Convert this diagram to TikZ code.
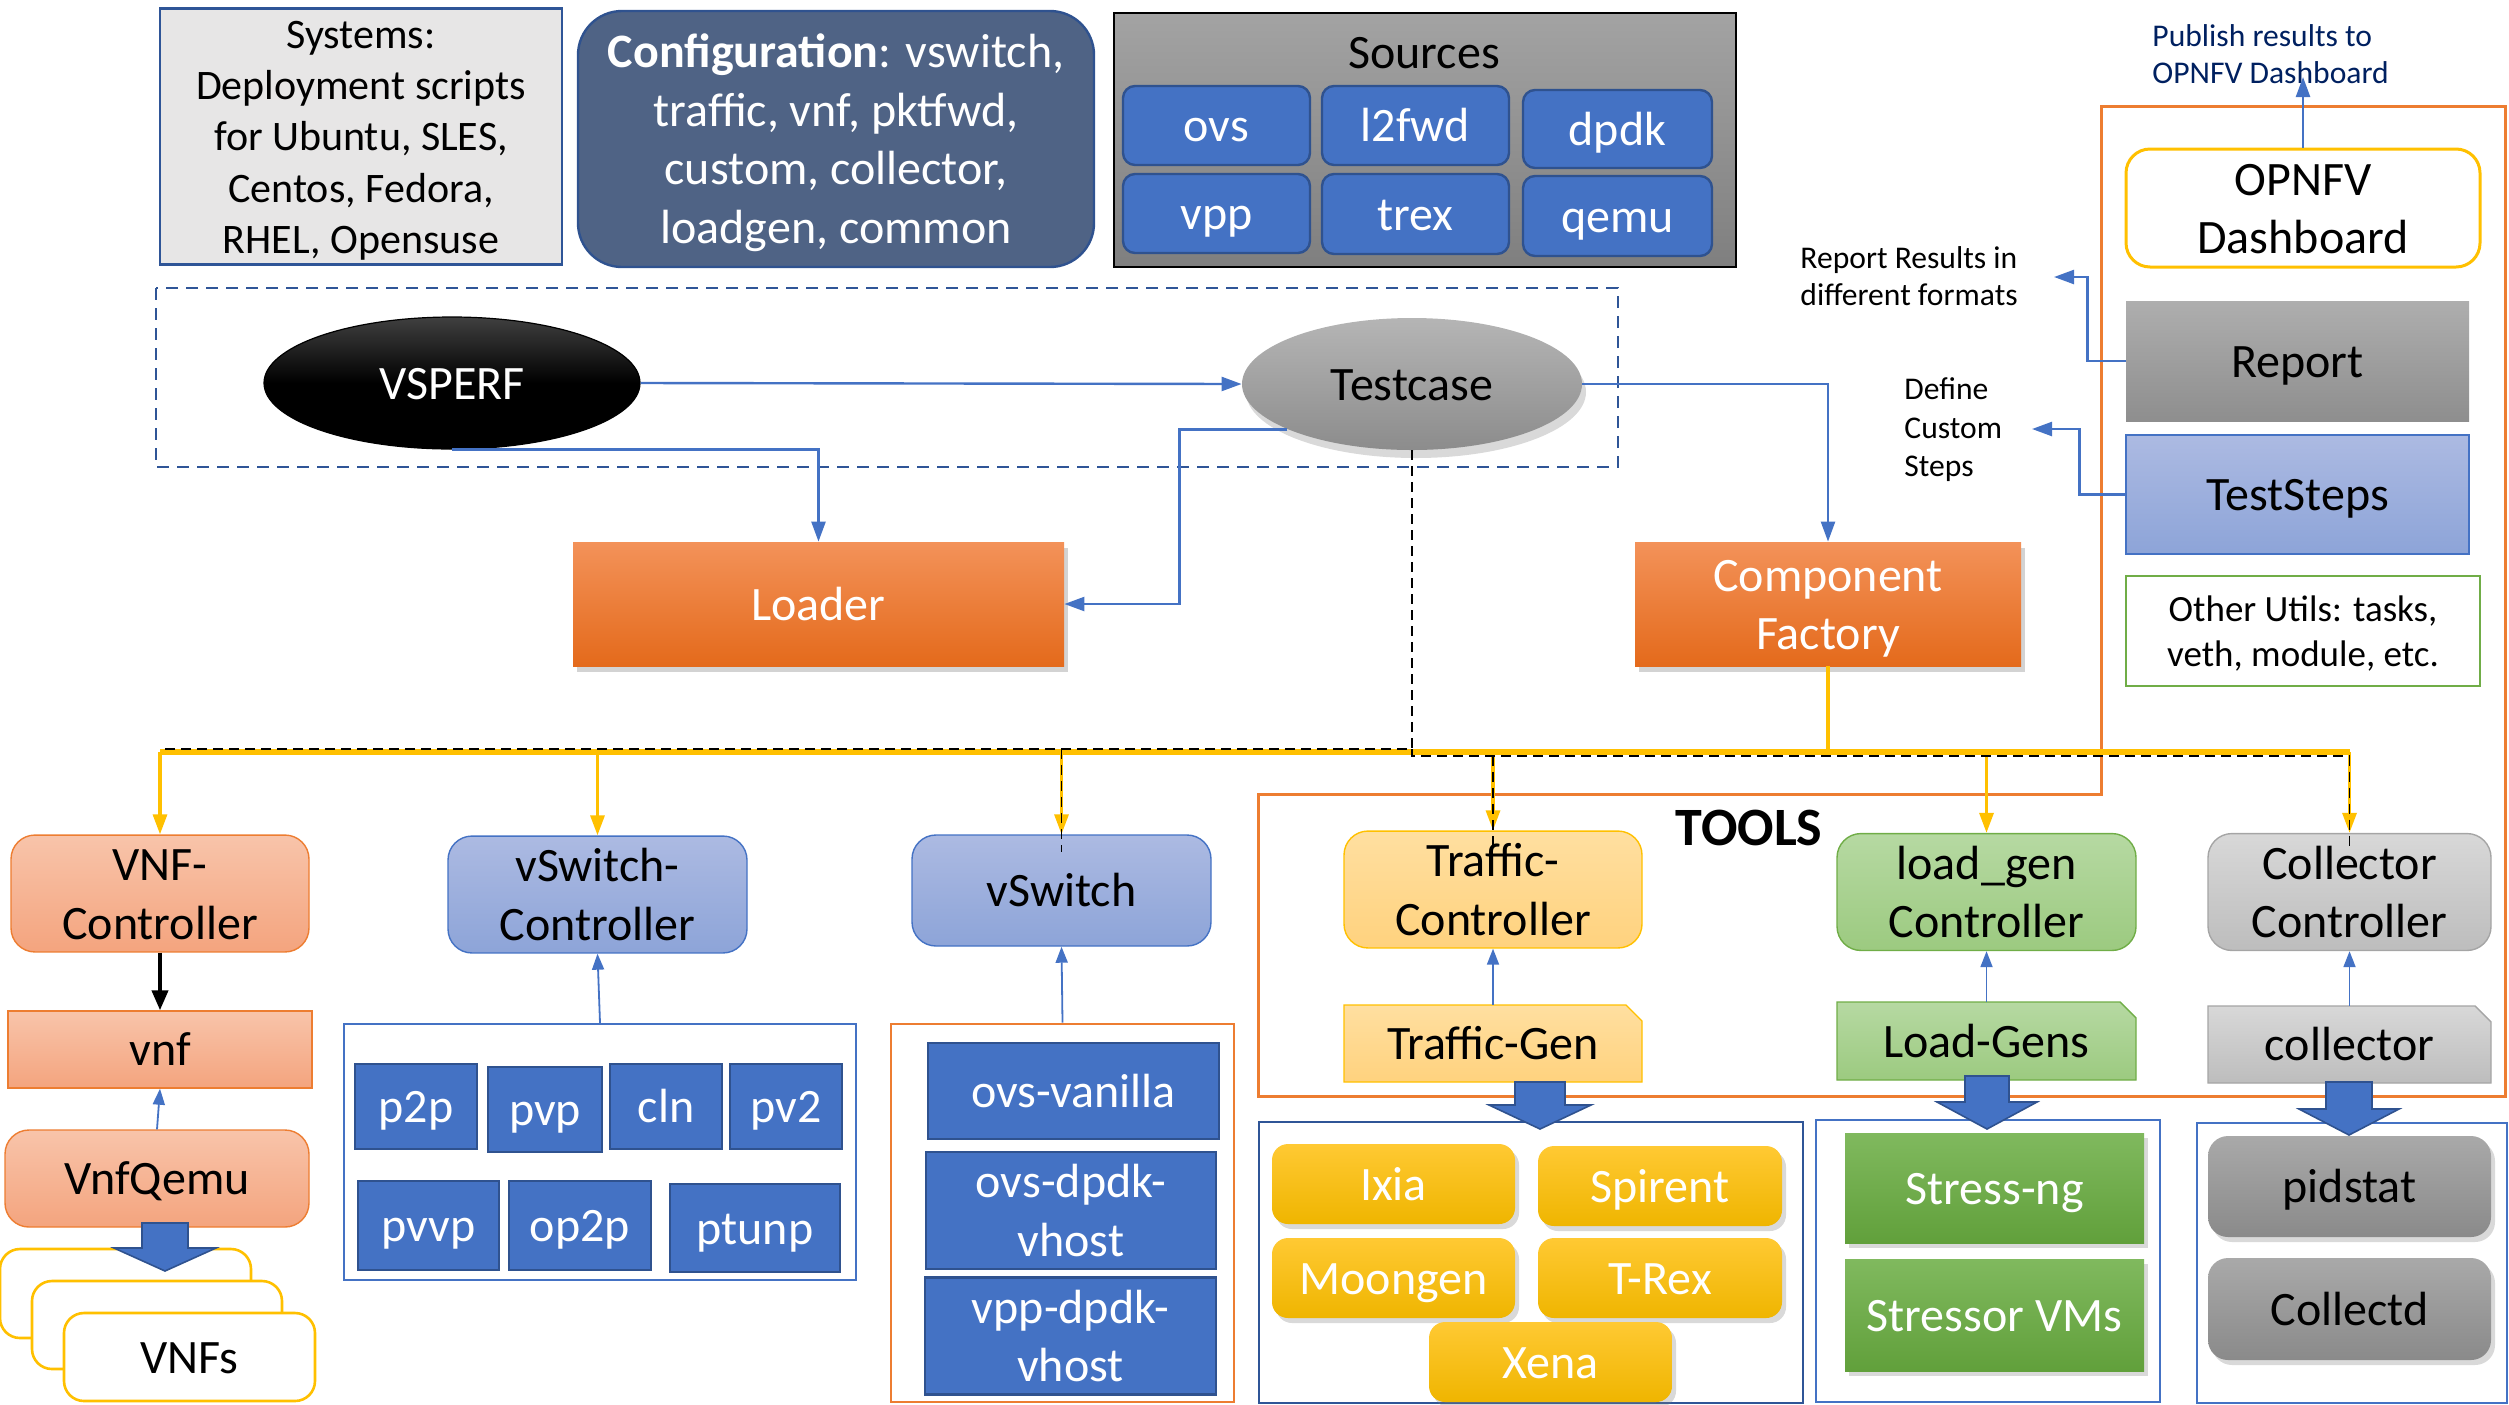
\documentclass[tikz,border=0pt]{standalone}
\usepackage{fontspec}
\setmainfont{Carlito}
\usetikzlibrary{arrows.meta,shadows,shapes.geometric,calc}
\definecolor{cblue}{HTML}{4472C4}
\definecolor{cdblue}{HTML}{2F528F}
\definecolor{cnavy}{HTML}{2F5597}
\definecolor{cconf}{HTML}{4F6385}
\definecolor{corange}{HTML}{ED7D31}
\definecolor{cyellow}{HTML}{FFC000}
\definecolor{cgreen}{HTML}{70AD47}
\definecolor{ctext}{HTML}{002060}
\definecolor{csys}{HTML}{E7E6E6}
\definecolor{salT}{HTML}{F8C4AA}\definecolor{salB}{HTML}{F4A47E}
\definecolor{lbT}{HTML}{ACBAE2}\definecolor{lbB}{HTML}{8DA4D8}
\definecolor{lyT}{HTML}{FFDFA0}\definecolor{lyB}{HTML}{FFD27E}
\definecolor{lgT}{HTML}{B6D9A2}\definecolor{lgB}{HTML}{9CCA80}
\definecolor{lgrT}{HTML}{D8D8D8}\definecolor{lgrB}{HTML}{BDBDBD}\definecolor{lgrD}{HTML}{A5A5A5}
\definecolor{ybT}{HTML}{FFC933}\definecolor{ybB}{HTML}{EFB500}
\definecolor{gbT}{HTML}{80B95E}\definecolor{gbB}{HTML}{61A03B}
\definecolor{grT}{HTML}{A9A9A9}\definecolor{grB}{HTML}{8A8A8A}
\definecolor{orT}{HTML}{F39259}\definecolor{orB}{HTML}{E46A1B}
\definecolor{srcT}{HTML}{A3A3A3}\definecolor{srcB}{HTML}{7F7F7F}
\definecolor{tcT}{HTML}{B5B5B5}\definecolor{tcB}{HTML}{8C8C8C}
\definecolor{repT}{HTML}{AEAEAE}\definecolor{repB}{HTML}{8E8E8E}
\newcommand\ps{\rule[-0.265em]{0pt}{1.215em}}
\newcommand\nl{\\\ps}
\newcommand\mkbox[7]{%
 \pgfmathsetmacro\mkw{(#5-#3)*0.5}%
 \pgfmathsetmacro\mkh{(#6-#4)*0.5}%
 \node[#2, minimum width=\mkw pt, minimum height=\mkh pt] (#1) at ({(#3+#5)/2},{(#4+#6)/2}) {\ps #7};}
\newcommand\snipshape[5]{%
 \draw[#5] (#1,#2) -- ({#3-16},#2) -- (#3,{#2+16}) -- (#3,#4) -- (#1,#4) -- cycle;}
\newcommand\blkarrow[6]{%
 \draw[blockarrow] ({#1-#5},#2) -- ({#1+#5},#2) -- ({#1+#5},#3) -- ({#1+#6},#3) -- (#1,#4) -- ({#1-#6},#3) -- ({#1-#5},#3) -- cycle;}
\tikzset{
 base/.style={inner sep=0pt, align=center, font=\fontsize{24}{29.3}\selectfont},
 conn/.style={draw=cblue, line width=1.2pt, -{Triangle[length=10pt,width=7pt]}},
 thinconn/.style={draw=cblue, line width=0.9pt, -{Triangle[length=8pt,width=6pt]}},
 ydrop/.style={draw=cyellow, line width=1.6pt, -{Triangle[length=10pt,width=7pt]}},
 kdash/.style={draw=black, line width=0.9pt, dash pattern=on 5pt off 3pt},
 blockarrow/.style={fill=cblue, draw=cdblue, line width=0.8pt},
 sysbox/.style={base, font=\fontsize{21}{25.6}\selectfont, fill=csys, draw=cnavy, line width=1.2pt},
 confbox/.style={base, text=white, fill=cconf, draw=cdblue, line width=1.2pt, rounded corners=22pt},
 srcbox/.style={draw=black, line width=1.2pt, top color=srcT, bottom color=srcB},
 srcbtn/.style={base, text=white, fill=cblue, draw=cdblue, line width=1.2pt, rounded corners=6pt},
 orangebox/.style={base, text=white, top color=orT, bottom color=orB,
   drop shadow={opacity=0.35, shadow xshift=2pt, shadow yshift=-3pt}},
 salmon/.style={base, top color=salT, bottom color=salB, draw=corange, line width=0.7pt},
 lblue/.style={base, top color=lbT, bottom color=lbB, draw=cblue, line width=0.7pt},
 lyellow/.style={base, top color=lyT, bottom color=lyB, draw=cyellow, line width=0.7pt},
 lgreen/.style={base, top color=lgT, bottom color=lgB, draw=cgreen, line width=0.7pt},
 lgray/.style={base, top color=lgrT, bottom color=lgrB, draw=lgrD, line width=0.7pt},
 bluesq/.style={base, text=white, fill=cblue, draw=cdblue, line width=1.2pt},
 ybtn/.style={base, text=white, top color=ybT, bottom color=ybB, rounded corners=8pt,
   drop shadow={opacity=0.3, shadow xshift=2pt, shadow yshift=-2.5pt}},
 gbtn/.style={base, text=white, top color=gbT, bottom color=gbB,
   drop shadow={opacity=0.3, shadow xshift=2pt, shadow yshift=-2.5pt}},
 graybtn/.style={base, top color=grT, bottom color=grB, rounded corners=10pt,
   drop shadow={opacity=0.3, shadow xshift=2pt, shadow yshift=-2.5pt}},
 plain/.style={base},
 small/.style={inner sep=0pt, align=left, font=\fontsize{15.8}{18.7}\selectfont}
}
\begin{document}
\begin{tikzpicture}[x=0.5pt,y=-0.5pt]
\useasboundingbox (0,0) rectangle (2509,1404);
% ---------- top row ----------
\mkbox{sys}{sysbox}{160}{11}{562}{262}{Systems:\nl Deployment scripts\nl for Ubuntu, SLES,\nl Centos, Fedora,\nl RHEL, Opensuse}
\mkbox{conf}{confbox}{578}{11}{1094}{267}{\textbf{Configuration}: vswitch,\nl traffic, vnf, pktfwd,\nl custom, collector,\nl loadgen, common}
\mkbox{src}{srcbox}{1114}{13}{1736}{267}{}
\node[base] (srct) at (1424,52) {\ps Sources};
\mkbox{ovs}{srcbtn}{1123}{86}{1310}{165}{ovs}
\mkbox{l2fwd}{srcbtn}{1322}{86}{1509}{165}{l2fwd}
\mkbox{dpdk}{srcbtn}{1523}{90}{1712}{168}{dpdk}
\mkbox{vpp}{srcbtn}{1123}{174}{1310}{253}{vpp}
\mkbox{trex}{srcbtn}{1322}{174}{1509}{254}{trex}
\mkbox{qemu}{srcbtn}{1523}{176}{1712}{256}{qemu}
% ---------- dashed frame ----------
\draw[cnavy, line width=1.3pt, dash pattern=on 6pt off 4pt] (156,288) rectangle (1618,467);
\node[ellipse, base, text=white, top color=black!75, bottom color=black, middle color=black, draw=black, line width=0.6pt,
  minimum width=188pt, minimum height=66pt] (vs) at (452,383) {\ps VSPERF};
\node[ellipse, base, top color=tcT, bottom color=tcB, minimum width=170pt, minimum height=66pt,
  drop shadow={opacity=0.3, shadow xshift=2pt, shadow yshift=-4pt}] (tc) at (1412,384) {\ps Testcase};
\mkbox{loader}{orangebox}{573}{542}{1064}{666}{Loader}
\mkbox{cf}{orangebox}{1635}{542}{2021}{666}{Component\nl Factory}
\draw[conn] (vs.east) -- (tc.west);
\draw[conn] (vs.south) -| (loader.north);
\draw[conn] (tc.200) -- ++(-108,0) |- (loader.east);
\draw[conn] (tc.east) -| (cf.north);
% ---------- right column ----------
\draw[corange, line width=1.5pt] (1258,794) -- (2101,794) -- (2101,106) -- (2505,106) -- (2505,1096) -- (1258,1096) -- cycle;
\mkbox{opnfv}{base, fill=white, draw=cyellow, line width=1.5pt, rounded corners=12pt}{2126}{149}{2480}{267}{OPNFV\nl Dashboard}
\mkbox{report}{base, top color=repT, bottom color=repB}{2126}{301}{2469}{421}{Report}
\mkbox{steps}{lblue}{2126}{435}{2469}{554}{TestSteps}
\mkbox{utils}{base, font=\fontsize{18.5}{22.5}\selectfont, fill=white, draw=cgreen, line width=1.3pt}{2126}{576}{2480}{686}{Other Utils: tasks,\nl veth, module, etc.}
\node[small, anchor=west, text=ctext] (pubtxt) at (2152,54) {Publish results to\\OPNFV Dashboard};
\node[small, anchor=west] (reptxt) at (1800,276) {Report Results in\\different formats};
\node[small, anchor=west, font=\fontsize{15.8}{19.3}\selectfont] (deftxt) at (1904,430) {Define\\Custom\\Steps};
\coordinate (pubend) at (2303,77);
\coordinate (repend) at (2054,277);
\coordinate (defend) at (2032,429);
\draw[conn] (opnfv.north) -- (pubend);
\draw[conn] (report.west) -- ++(-38,0) |- (repend);
\draw[conn] (steps.west) -- ++(-46,0) |- (defend);
% ---------- bottom nodes ----------
\mkbox{vnfc}{salmon, rounded corners=12pt}{11}{838}{309}{949}{VNF-\nl Controller}
\mkbox{vnf}{salmon}{8}{1011}{312}{1088}{vnf}
\mkbox{vnfq}{salmon, rounded corners=12pt}{5}{1130}{309}{1227}{VnfQemu}
\mkbox{vnfs1}{base, fill=white, draw=cyellow, line width=1.3pt, rounded corners=10pt}{0}{1249}{251}{1338}{}
\mkbox{vnfs2}{base, fill=white, draw=cyellow, line width=1.3pt, rounded corners=10pt}{32}{1281}{282}{1369}{}
\mkbox{vnfs3}{base, fill=white, draw=cyellow, line width=1.3pt, rounded corners=10pt}{64}{1313}{315}{1401}{VNFs}
\draw[black, line width=2pt, -{Triangle[length=10pt,width=8pt]}] (vnfc.south) -- (vnf.north);
\draw[thinconn] (vnfq.north) -- (vnf.south);
\blkarrow{165}{1223}{1248}{1271}{23}{51}

\mkbox{vsc}{lblue, rounded corners=12pt}{448}{840}{747}{949}{vSwitch-\nl Controller}
\mkbox{vscbox}{draw=cblue, line width=1.1pt, fill=white}{344}{1024}{856}{1280}{}
\mkbox{p2p}{bluesq}{355}{1064}{477}{1149}{p2p}
\mkbox{pvp}{bluesq}{488}{1067}{602}{1152}{pvp}
\mkbox{cln}{bluesq}{610}{1064}{722}{1149}{cln}
\mkbox{pv2}{bluesq}{730}{1064}{842}{1149}{pv2}
\mkbox{pvvp}{bluesq}{358}{1181}{499}{1270}{pvvp}
\mkbox{op2p}{bluesq}{509}{1181}{651}{1270}{op2p}
\mkbox{ptunp}{bluesq}{670}{1184}{840}{1272}{ptunp}
\draw[thinconn] (vscbox.north) -- (vsc.south);

\mkbox{vsw}{lblue, rounded corners=12pt}{912}{835}{1211}{946}{vSwitch}
\mkbox{vswbox}{draw=corange, line width=1.3pt, fill=white}{891}{1024}{1234}{1402}{}
\mkbox{ovsv}{bluesq}{928}{1043}{1219}{1139}{ovs-vanilla}
\mkbox{ovsd}{bluesq}{926}{1155}{1216}{1266}{ovs-dpdk-\nl vhost}
\mkbox{vppd}{bluesq}{925}{1280}{1216}{1392}{vpp-dpdk-\nl vhost}
\draw[thinconn] (vswbox.north) -- (vsw.south);

\node[font=\fontsize{27}{32}\selectfont\bfseries, inner sep=0pt] (tools) at (1749,828) {TOOLS};

\mkbox{trc}{lyellow, rounded corners=12pt}{1344}{835}{1642}{944}{Traffic-\nl Controller}
\snipshape{1344}{1005}{1642}{1082}{top color=lyT, bottom color=lyB, draw=cyellow, line width=0.7pt}
\mkbox{trg}{plain}{1344}{1005}{1642}{1082}{Traffic-Gen}
\draw[thinconn] (trg.north) -- (trc.south);
\mkbox{trbox}{draw=cnavy, line width=1.1pt}{1259}{1122}{1803}{1403}{}
\mkbox{ixia}{ybtn}{1272}{1144}{1515}{1224}{Ixia}
\mkbox{spirent}{ybtn}{1538}{1146}{1782}{1226}{Spirent}
\mkbox{moongen}{ybtn}{1272}{1238}{1515}{1318}{Moongen}
\mkbox{trexb}{ybtn}{1538}{1238}{1782}{1318}{T-Rex}
\mkbox{xena}{ybtn}{1429}{1322}{1672}{1402}{Xena}
\blkarrow{1540}{1082}{1105}{1129}{25}{51}

\mkbox{lgc}{lgreen, rounded corners=12pt}{1837}{838}{2136}{946}{load\_gen\nl Controller}
\snipshape{1837}{1002}{2136}{1080}{top color=lgT, bottom color=lgB, draw=cgreen, line width=0.7pt}
\mkbox{lgs}{plain}{1837}{1002}{2136}{1080}{Load-Gens}
\draw[thinconn] (lgs.north) -- (lgc.south);
\mkbox{lgbox}{draw=cblue, line width=1.1pt}{1816}{1120}{2160}{1402}{}
\mkbox{stress}{gbtn}{1845}{1133}{2144}{1243}{Stress-ng}
\mkbox{stressvm}{gbtn}{1845}{1259}{2144}{1371}{Stressor VMs}
\blkarrow{1987}{1076}{1102}{1129}{22}{50}

\mkbox{collc}{lgray, rounded corners=12pt}{2208}{838}{2491}{946}{Collector\nl Controller}
\snipshape{2208}{1006}{2491}{1083}{top color=lgrT, bottom color=lgrB, draw=lgrD, line width=0.7pt}
\mkbox{coll}{plain}{2208}{1006}{2491}{1083}{collector}
\draw[thinconn] (coll.north) -- (collc.south);
\mkbox{collbox}{draw=cblue, line width=1.1pt}{2197}{1123}{2507}{1403}{}
\mkbox{pidstat}{graybtn}{2208}{1136}{2491}{1237}{pidstat}
\mkbox{collectd}{graybtn}{2208}{1258}{2491}{1360}{Collectd}
\blkarrow{2349}{1082}{1109}{1135}{23}{50}

% ---------- bus ----------
\coordinate (busY) at (0,752);
\coordinate (busA) at (0,749);
\coordinate (busB) at (0,756);
\draw[cyellow, line width=2.6pt] (vnfc.north |- busY) -- (collc.north |- busY);
\draw[cyellow, line width=1.8pt] (cf.south) -- (cf.south |- busY);
\draw[ydrop] (vnfc.north |- busY) -- (vnfc.north);
\draw[ydrop] (vsc.north |- busY) -- (vsc.north);
\draw[ydrop] (vsw.north |- busY) -- (vsw.north);
\draw[ydrop] (trc.north |- busY) -- (trc.north);
\draw[ydrop] (lgc.north |- busY) -- (lgc.north);
\draw[ydrop] (collc.north |- busY) -- (collc.north);
\draw[kdash] (tc.south) -- (tc.south |- busA) -- (vnfc.north |- busA);
\draw[kdash] (tc.south |- busA) -- (tc.south |- busB) -- (collc.north |- busB) -- ([yshift=-9pt]collc.north);
\draw[kdash] (vsw.north |- busA) -- ([yshift=-9pt]vsw.north);
\draw[kdash] (trc.north |- busB) -- ([yshift=-9pt]trc.north);
\end{tikzpicture}
\end{document}
